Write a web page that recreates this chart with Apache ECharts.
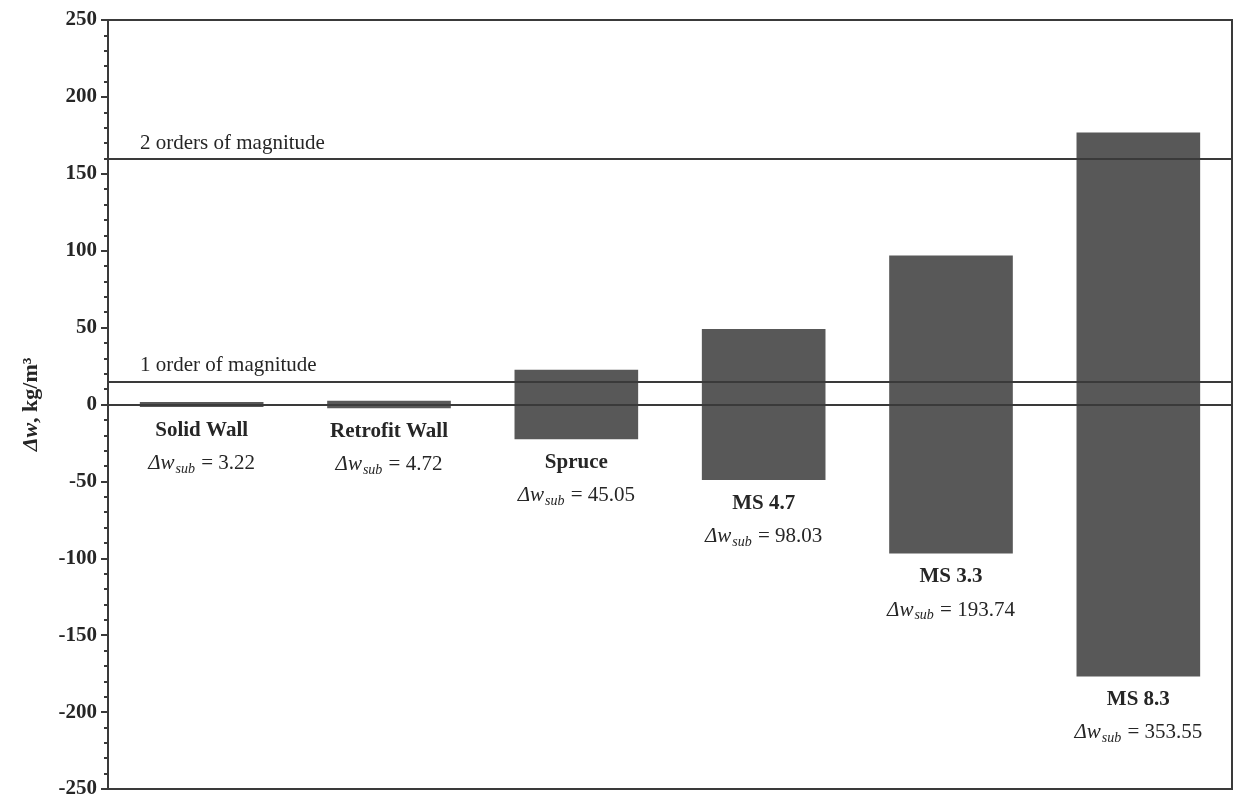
<!DOCTYPE html>
<html>
<head>
<meta charset="utf-8">
<title>Δw by material</title>
<script src="https://cdn.jsdelivr.net/npm/echarts@6/dist/echarts.min.js"></script>
<style>
  html, body { margin: 0; padding: 0; background: #ffffff; }
  #chart { width: 1236px; height: 803px; }
</style>
</head>
<body>
<div id="chart"></div>
<script>
// Materials and their moisture-content spread Δw_sub (kg/m³)
const categories = ['Solid Wall', 'Retrofit Wall', 'Spruce', 'MS 4.7', 'MS 3.3', 'MS 8.3'];
const dwSub = [3.22, 4.72, 45.05, 98.03, 193.74, 353.55];

// Reference levels drawn as horizontal lines
const levelNames = ['1 order of magnitude', '2 orders of magnitude'];
const levelValues = [15, 159.5];

// y-axis range and ticks
const yMin = -250, yMax = 250, yStep = 50;

const SERIF = "'Liberation Serif', 'Times New Roman', serif";
const INK = '#262626';
const BAR = '#585858';

// each bar spans symmetrically about zero: +Δw/2 above, −Δw/2 below
const upper = dwSub.map(v => v / 2);
const lower = dwSub.map(v => -v / 2);

const chart = echarts.init(document.getElementById('chart'));

chart.setOption({
  backgroundColor: '#ffffff',
  animation: false,
  grid: {
    left: 108, right: 4, top: 20, bottom: 14,
    show: true, borderColor: '#3a3a3a', borderWidth: 2, backgroundColor: 'transparent'
  },
  xAxis: {
    type: 'category',
    data: categories,
    axisLine: { onZero: false, lineStyle: { color: '#3a3a3a', width: 2 } },
    axisTick: { show: false },
    axisLabel: { show: false },
    splitLine: { show: false }
  },
  yAxis: {
    type: 'value',
    min: yMin, max: yMax, interval: yStep,
    name: '{d|Δw}{t|, kg/m³}',
    nameLocation: 'middle',
    nameRotate: 90,
    nameGap: 66,
    nameTextStyle: {
      rich: {
        d: { fontFamily: SERIF, fontSize: 22, fontWeight: 'bold', fontStyle: 'italic', color: INK },
        t: { fontFamily: SERIF, fontSize: 22, fontWeight: 'bold', color: INK }
      }
    },
    axisLine: { show: true, lineStyle: { color: '#3a3a3a', width: 2 } },
    axisTick: { show: true, inside: false, length: 7, lineStyle: { color: '#3a3a3a', width: 2 } },
    minorTick: { show: true, splitNumber: 5, length: 4, lineStyle: { color: '#3a3a3a', width: 2 } },
    axisLabel: {
      fontFamily: SERIF, fontSize: 21, fontWeight: 'bold', color: INK, margin: 11
    },
    splitLine: { show: false }
  },
  series: [
    {
      // zero line and the two reference levels, kept behind the bars
      type: 'line',
      data: [],
      z: 1,
      markLine: {
        silent: true,
        symbol: 'none',
        lineStyle: { color: '#3a3a3a', width: 2, type: 'solid' },
        data: [
          { yAxis: 0, label: { show: false } }
        ].concat(levelValues.map((v, i) => ({
          yAxis: v,
          label: {
            show: true,
            formatter: levelNames[i],
            position: 'insideStartTop',
            distance: [32, 5],
            fontFamily: SERIF, fontSize: 21, color: INK
          }
        })))
      }
    },
    {
      type: 'bar',
      name: 'upper',
      data: upper,
      barWidth: '66%',
      barGap: '-100%',
      z: 3,
      itemStyle: { color: BAR },
      silent: true
    },
    {
      type: 'bar',
      name: 'lower',
      data: lower,
      barWidth: '66%',
      barGap: '-100%',
      z: 3,
      itemStyle: { color: BAR },
      silent: true,
      label: {
        show: true,
        position: 'bottom',
        distance: 7,
        formatter: p => '{n|' + categories[p.dataIndex] + '}\n{d|Δw}{s|sub}{v| = ' + dwSub[p.dataIndex].toFixed(2) + '}',
        rich: {
          n: { fontFamily: SERIF, fontSize: 21, fontWeight: 'bold', color: INK, lineHeight: 33, align: 'center' },
          d: { fontFamily: SERIF, fontSize: 21, fontStyle: 'italic', color: INK, lineHeight: 33 },
          s: { fontFamily: SERIF, fontSize: 14, fontStyle: 'italic', color: INK, lineHeight: 33, padding: [11, 1, 0, 1] },
          v: { fontFamily: SERIF, fontSize: 21, color: INK, lineHeight: 33 }
        }
      }
    }
  ]
});
</script>
</body>
</html>
